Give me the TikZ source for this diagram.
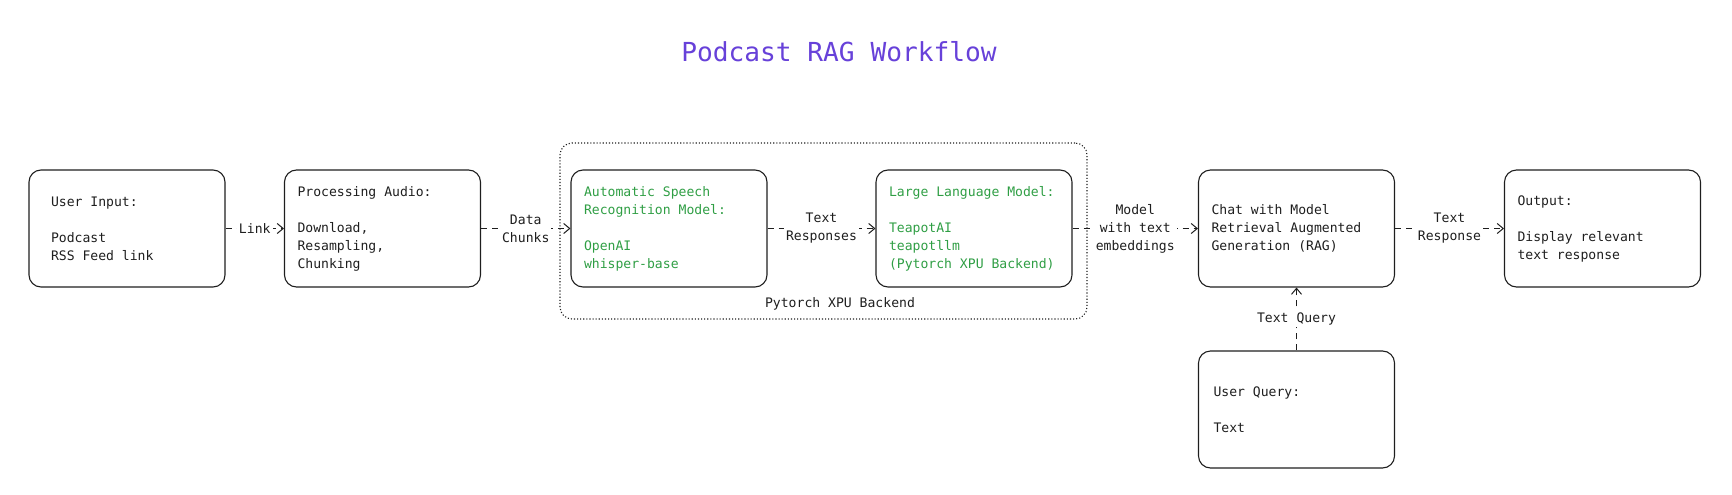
\documentclass[tikz,border=0pt]{standalone}
\usepackage{fontspec}
\setmainfont{DejaVu Sans Mono}
\usetikzlibrary{arrows.meta}

\definecolor{ink}{HTML}{1E1E1E}
\definecolor{titlevio}{HTML}{6741D9}
\definecolor{modelgreen}{HTML}{2F9E44}
\newcommand{\bodyfont}{\fontsize{13.1}{18}\selectfont}
\newcommand{\titlefont}{\fontsize{26.2}{30}\selectfont}

\tikzset{
  box/.style={draw=ink, line width=1.1pt, rounded corners=12pt,
    minimum height=117pt, text width=170pt, inner xsep=13pt,
    align=left, font=\bodyfont, text=ink,
    execute at begin node={\spaceskip=\fontdimen2\font\relax}},
  model/.style={box, text=modelgreen},
  group/.style={draw=ink, line width=1.1pt, dotted, rounded corners=12pt,
    minimum width=527pt, minimum height=176pt},
  flow/.style={->, draw=ink, line width=1pt, dash pattern=on 6pt off 5pt},
  tag/.style={fill=white, inner sep=2pt, align=center, font=\bodyfont, text=ink,
    execute at begin node={\spaceskip=\fontdimen2\font\relax}}
}

\begin{document}
\begin{tikzpicture}[x=1pt, y=-1pt, >={Straight Barb[length=6pt,width=10pt]}]
\useasboundingbox (0,0) rectangle (1732,495);
\node[font=\titlefont, text=titlevio] (title) at (839,52) {Podcast RAG Workflow};

% backend group
\node[group] (xpu) at (823.5,231) {};
\node[font=\bodyfont, text=ink] (backend) at (840,304) {Pytorch XPU Backend};

% boxes
\node[box, text width=152pt, inner xsep=22pt] (input) at (127,228.5)
  {User Input:\\[18pt]Podcast\\RSS Feed link};
\node[box] (audio) at (382.5,228.5)
  {Processing Audio:\\[18pt]Download,\\Resampling,\\Chunking};
\node[model] (asr) at (669,228.5)
  {Automatic Speech\\Recognition Model:\\[18pt]OpenAI\\whisper-base};
\node[model] (llm) at (974,228.5)
  {Large Language Model:\\[18pt]TeapotAI\\teapotllm\\(Pytorch XPU Backend)};
\node[box] (chat) at (1296.5,228.5)
  {Chat with Model\\Retrieval Augmented\\Generation (RAG)\\[18pt]};
\node[box] (output) at (1602.5,228.5)
  {Output:\\[18pt]Display relevant\\text response\\[18pt]};
\node[box, inner xsep=15pt, text width=166pt] (query) at (1296.5,409.5)
  {User Query:\\[18pt]Text};

% connectors
\draw[flow] (input) -- node[tag]{Link} (audio);
\draw[flow] (audio) -- node[tag]{Data\\Chunks} (asr);
\draw[flow] (asr) -- node[tag]{Text\\Responses} (llm);
\draw[flow] (llm) -- node[tag]{Model\\with text\\embeddings} (chat);
\draw[flow] (chat) -- node[tag]{Text\\Response} (output);
\draw[flow] (query) -- node[tag]{Text Query} (chat);
\end{tikzpicture}
\end{document}
